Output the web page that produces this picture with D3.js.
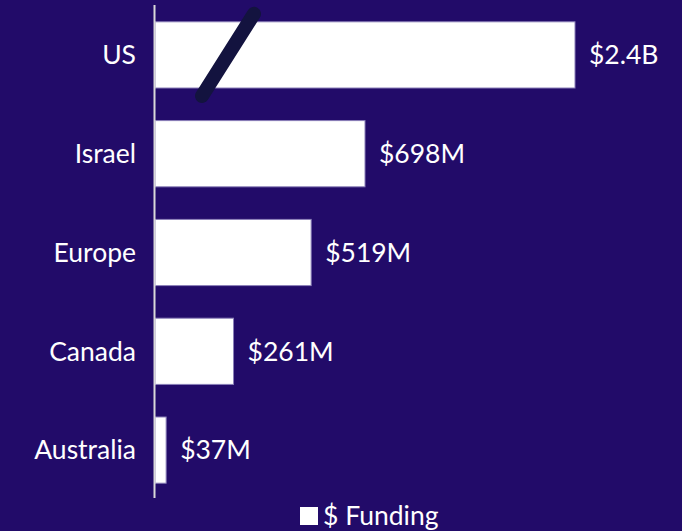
<!DOCTYPE html>
<html>
<head>
<meta charset="utf-8">
<script src="https://cdn.jsdelivr.net/npm/d3@7"></script>
<style>
    body { margin: 0; background: #220b69; }
    svg { display: block; }
</style>
</head>
<body>
<div id="chart"></div>
<script>
const regions = ["US", "Israel", "Europe", "Canada", "Australia"];
const funding = [2400, 698, 519, 261, 37];          // $M
const fundingLabels = ["$2.4B", "$698M", "$519M", "$261M", "$37M"];
const legendLabel = "$ Funding";

const width = 682, height = 531;
const bg = "#220b69";
const font = "Lato, 'Open Sans', sans-serif";
const fontSize = "26.5px";

const svg = d3.select("#chart")
    .append("svg")
    .attr("width", width)
    .attr("height", height);

svg.append("rect")
    .attr("width", width)
    .attr("height", height)
    .attr("fill", bg);

// axis is broken on the US bar, so clamp the scale
const x = d3.scaleLinear()
    .domain([0, 1396])
    .range([155, 575])
    .clamp(true);

const y = d3.scaleBand()
    .domain(regions)
    .range([6, 499])
    .paddingInner(0.33)
    .paddingOuter(0.16);

const rows = regions.map((r, i) => ({region: r, value: funding[i], label: fundingLabels[i]}));

svg.selectAll(".bar")
    .data(rows)
    .enter()
    .append("rect")
    .attr("class", "bar")
    .attr("x", x(0))
    .attr("y", d => y(d.region))
    .attr("width", d => x(d.value) - x(0))
    .attr("height", y.bandwidth())
    .attr("fill", "white")
    .attr("stroke", "#8a7fb8")
    .attr("stroke-width", 1);

// vertical axis line
svg.append("line")
    .attr("x1", x(0) - 0.5)
    .attr("x2", x(0) - 0.5)
    .attr("y1", 5)
    .attr("y2", 498)
    .attr("stroke", "#d9d9d9")
    .attr("stroke-width", 2);

// category labels
svg.selectAll(".cat")
    .data(rows)
    .enter()
    .append("text")
    .attr("class", "cat")
    .attr("x", 136)
    .attr("y", d => y(d.region) + y.bandwidth() / 2)
    .attr("dy", "0.35em")
    .attr("text-anchor", "end")
    .attr("fill", "white")
    .style("font-family", font)
    .style("font-size", fontSize)
    .text(d => d.region);

// value labels
svg.selectAll(".val")
    .data(rows)
    .enter()
    .append("text")
    .attr("class", "val")
    .attr("x", d => x(d.value) + 14)
    .attr("y", d => y(d.region) + y.bandwidth() / 2)
    .attr("dy", "0.35em")
    .attr("fill", "white")
    .style("font-family", font)
    .style("font-size", fontSize)
    .text(d => d.label);

// break mark on the US bar
const usTop = y("US"), usH = y.bandwidth();
svg.append("line")
    .attr("x1", 202)
    .attr("y1", usTop + usH + 8)
    .attr("x2", 254)
    .attr("y2", usTop - 8)
    .attr("stroke", "#13133f")
    .attr("stroke-width", 14)
    .attr("stroke-linecap", "round");

// legend
const legend = svg.append("g").attr("transform", "translate(300,507)");
legend.append("rect")
    .attr("width", 18)
    .attr("height", 18)
    .attr("fill", "white");
legend.append("text")
    .attr("x", 23)
    .attr("y", 9)
    .attr("dy", "0.35em")
    .attr("fill", "white")
    .style("font-family", font)
    .style("font-size", fontSize)
    .text(legendLabel);
</script>
</body>
</html>
